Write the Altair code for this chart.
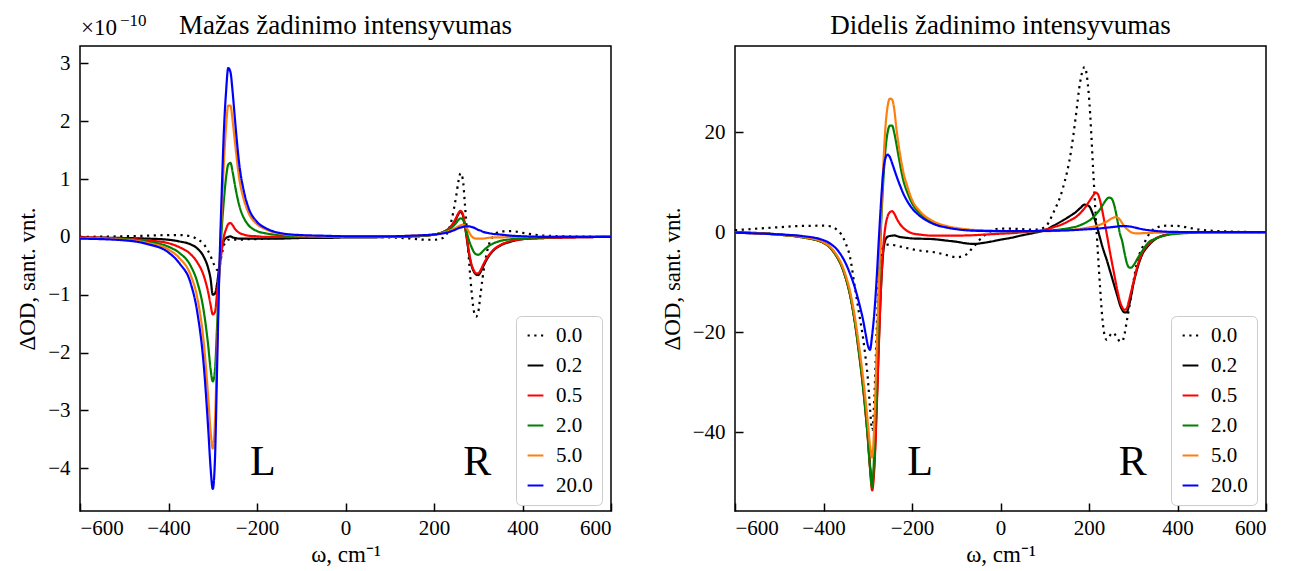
import altair as alt
import pandas as pd

FONT = "Liberation Serif"
SERIES = ["0.0", "0.2", "0.5", "2.0", "5.0", "20.0"]
COLORS = ["#000000", "#000000", "#ff0000", "#008000", "#ff7f0e", "#0000ff"]
DASHES = [[2.2, 4.5], [1, 0], [1, 0], [1, 0], [1, 0], [1, 0]]

# ---------------- left panel (x 1e-10) ----------------
x_left = [-600, -500, -450, -400, -375,
          -350, -335, -320, -310, -305,
          -300, -295, -290, -285, -280,
          -275, -270, -265, -260, -255,
          -250, -240, -230, -220, -200,
          -180, -150, -100, -50, 0,
          50, 100, 150, 180, 200,
          220, 240, 250, 255, 260,
          265, 270, 275, 280, 285,
          290, 295, 300, 305, 310,
          320, 335, 350, 375, 400,
          450, 500, 600]

left_00 = [0.0, 0.01, 0.02, 0.03, 0.03,
           0.01, -0.04, -0.13, -0.25, -0.33,
           -0.43, -0.51, -0.57, -0.52, -0.32,
           -0.15, -0.08, -0.05, -0.05, -0.05,
           -0.05, -0.05, -0.05, -0.04, -0.04,
           -0.03, -0.02, -0.01, 0.0, 0.0,
           0.0, -0.01, -0.03, -0.05, -0.05,
           -0.02, 0.3, 0.7, 0.95, 1.1,
           1.0, 0.55, 0.05, -0.5, -0.95,
           -1.28, -1.38, -1.3, -1.0, -0.7,
           -0.25, 0.02, 0.09, 0.1, 0.07,
           0.02, 0.01, 0.0]

left_02 = [-0.01, -0.02, -0.03, -0.05, -0.08,
           -0.13, -0.2, -0.35, -0.55, -0.72,
           -1.0, -0.98, -0.8, -0.5, -0.22,
           -0.07, -0.02, 0.0, 0.01, -0.01,
           -0.02, -0.03, -0.03, -0.03, -0.03,
           -0.03, -0.03, -0.02, -0.02, -0.01,
           -0.01, 0.0, 0.01, 0.02, 0.04,
           0.08, 0.19, 0.31, 0.39, 0.43,
           0.38, 0.18, -0.08, -0.33, -0.5,
           -0.6, -0.65, -0.66, -0.61, -0.53,
           -0.38, -0.23, -0.15, -0.08, -0.04,
           -0.02, -0.01, 0.0]

left_05 = [-0.01, -0.03, -0.06, -0.11, -0.18,
           -0.3, -0.44, -0.68, -0.97, -1.17,
           -1.34, -1.3, -0.95, -0.6, -0.25,
           0.0, 0.13, 0.22, 0.24, 0.2,
           0.14, 0.07, 0.04, 0.02, 0.01,
           0.0, 0.0, 0.0, 0.0, 0.0,
           0.0, 0.0, 0.01, 0.02, 0.04,
           0.08, 0.2, 0.33, 0.41, 0.45,
           0.4, 0.2, -0.05, -0.3, -0.48,
           -0.58, -0.63, -0.63, -0.58, -0.5,
           -0.36, -0.22, -0.14, -0.07, -0.04,
           -0.02, -0.01, 0.0]

left_20 = [-0.02, -0.04, -0.08, -0.17, -0.28,
           -0.5, -0.78, -1.3, -1.9, -2.28,
           -2.5, -2.3, -1.5, -0.6, 0.1,
           0.62, 1.02, 1.25, 1.28, 1.12,
           0.9, 0.54, 0.33, 0.21, 0.1,
           0.06, 0.03, 0.01, 0.0, 0.0,
           0.0, 0.0, 0.01, 0.02, 0.04,
           0.08, 0.16, 0.24, 0.29, 0.32,
           0.3, 0.2, 0.05, -0.08, -0.18,
           -0.26, -0.3, -0.31, -0.29, -0.25,
           -0.18, -0.11, -0.07, -0.04, -0.02,
           -0.01, 0.0, 0.0]

left_50 = [-0.02, -0.05, -0.1, -0.22, -0.37,
           -0.66, -1.05, -1.85, -2.8, -3.35,
           -3.66, -3.2, -1.9, -0.6, 0.4,
           1.25, 1.9, 2.27, 2.27, 2.0,
           1.65, 1.0, 0.65, 0.43, 0.22,
           0.13, 0.06, 0.02, 0.01, 0.01,
           0.01, 0.01, 0.02, 0.03, 0.04,
           0.07, 0.12, 0.16, 0.18, 0.2,
           0.21, 0.19, 0.14, 0.07, 0.01,
           -0.02, -0.03, -0.03, -0.03, -0.03,
           -0.02, -0.01, -0.01, 0.0, 0.0,
           0.0, 0.0, 0.0]

left_200 = [-0.03, -0.06, -0.12, -0.27, -0.46,
            -0.8, -1.3, -2.25, -3.35, -3.98,
            -4.36, -3.85, -2.2, -0.55, 0.7,
            1.8, 2.5, 2.92, 2.85, 2.5,
            2.05, 1.25, 0.8, 0.52, 0.26,
            0.15, 0.07, 0.03, 0.02, 0.01,
            0.01, 0.01, 0.02, 0.03, 0.04,
            0.06, 0.1, 0.13, 0.15, 0.16,
            0.17, 0.18, 0.18, 0.18, 0.17,
            0.16, 0.14, 0.12, 0.11, 0.09,
            0.07, 0.05, 0.04, 0.02, 0.01,
            0.0, 0.0, 0.0]

# ---------------- right panel ----------------
x_right = [-600, -500, -450, -400, -380,
           -370, -360, -350, -340, -330,
           -320, -310, -305, -300, -295,
           -290, -285, -280, -275, -270,
           -265, -260, -255, -250, -245,
           -240, -235, -230, -220, -210,
           -200, -180, -150, -120, -100,
           -80, -60, -40, -20, 0,
           25, 50, 75, 100, 120,
           140, 160, 170, 180, 190,
           200, 210, 215, 220, 225,
           230, 235, 240, 245, 250,
           255, 260, 265, 270, 275,
           280, 285, 290, 295, 300,
           310, 320, 335, 350, 375,
           400, 425, 450, 500, 600]

right_00 = [0.4, 1.0, 1.25, 1.3, 1.1,
            0.5, -0.4, -2.2, -5.0, -10.5,
            -16.0, -21.5, -25.0, -29.0, -35.0,
            -39.5, -33.0, -20.0, -9.0, -4.5,
            -3.0, -2.6, -2.5, -2.5, -2.5,
            -2.6, -2.7, -2.8, -3.0, -3.2,
            -3.4, -3.7, -4.0, -4.6, -5.0,
            -4.6, -2.8, -0.9, 0.3, 0.7,
            0.7, 0.6, 0.5, 1.0, 4.0,
            8.5, 16.5, 23.0, 30.0, 33.0,
            27.0, 11.5, 3.5, -4.0, -11.0,
            -17.0, -20.5, -21.5, -21.0, -20.3,
            -20.1, -20.6, -21.3, -21.8, -21.8,
            -20.5, -18.0, -15.5, -12.8, -10.1,
            -5.5, -3.2, -0.5, 0.8, 1.3,
            1.25, 0.9, 0.5, 0.2, 0.0]

right_02 = [0.0, -0.45, -0.95, -2.1, -3.5,
            -4.8, -6.5, -9.0, -12.4, -17.3,
            -23.5, -31.0, -35.5, -40.5, -46.5,
            -50.2, -46.0, -35.0, -22.0, -11.0,
            -4.0, -1.5, -0.9, -0.75, -0.7,
            -0.65, -0.75, -0.9, -1.05, -1.15,
            -1.25, -1.3, -1.4, -1.7, -1.9,
            -2.2, -2.35, -2.15, -1.85, -1.5,
            -1.1, -0.6, -0.15, 0.4, 1.3,
            2.3, 3.4, 4.0, 4.8, 5.5,
            5.2, 3.3, 2.0, 0.5, -1.2,
            -2.8, -4.2, -5.5, -7.0, -8.5,
            -10.0, -11.5, -13.0, -14.5, -15.5,
            -16.0, -16.0, -14.8, -12.8, -10.5,
            -7.0, -4.5, -2.6, -1.4, -0.5,
            -0.2, -0.1, 0.0, 0.0, 0.0]

right_05 = [-0.1, -0.5, -1.0, -2.1, -3.6,
            -4.9, -6.6, -9.1, -12.5, -17.5,
            -24.0, -31.5, -36.0, -41.0, -47.0,
            -51.6, -47.0, -36.0, -23.0, -11.0,
            -3.0, 1.2, 3.2, 4.0, 4.2,
            3.7, 2.8, 2.0, 0.9, 0.2,
            -0.2, -0.5, -0.7, -0.7, -0.7,
            -0.65, -0.6, -0.5, -0.4, -0.3,
            -0.2, 0.0, 0.2, 0.5, 1.0,
            1.6, 2.5, 3.0, 3.8, 4.8,
            6.1, 7.4, 7.9, 7.6, 6.3,
            4.3, 2.0, -0.3, -2.8, -5.2,
            -7.5, -9.8, -12.0, -13.8, -15.0,
            -15.5, -15.3, -13.8, -12.0, -10.2,
            -6.6, -4.2, -2.4, -1.3, -0.5,
            -0.2, -0.1, 0.0, 0.0, 0.0]

right_20 = [-0.1, -0.5, -1.0, -2.1, -3.6,
            -4.9, -6.6, -9.1, -12.5, -17.5,
            -24.0, -31.5, -36.0, -41.0, -47.0,
            -51.0, -43.0, -28.0, -12.0, 1.0,
            10.0, 16.5, 20.0, 21.3, 21.3,
            19.8, 17.5, 15.0, 10.5, 7.8,
            5.8, 3.6, 1.8, 1.0, 0.7,
            0.5, 0.4, 0.3, 0.25, 0.2,
            0.2, 0.2, 0.2, 0.3, 0.4,
            0.6, 0.9, 1.1, 1.4, 1.8,
            2.3, 3.0, 3.5, 4.0, 4.6,
            5.3, 6.0, 6.6, 6.9, 6.8,
            6.0, 4.3, 2.0, -0.3, -1.8,
            -4.0, -6.0, -7.0, -7.1, -6.7,
            -5.2, -3.8, -2.0, -1.3, -0.6,
            -0.3, -0.15, -0.05, 0.0, 0.0]

right_50 = [-0.1, -0.5, -0.9, -2.0, -3.4,
            -4.6, -6.2, -8.6, -11.8, -16.5,
            -22.5, -29.5, -33.5, -38.0, -42.5,
            -45.0, -38.0, -24.0, -11.0, 2.5,
            13.0, 21.0, 25.2, 26.7, 26.5,
            24.5, 20.5, 17.3, 12.2, 9.0,
            6.5, 4.0, 2.1, 1.2, 0.85,
            0.6, 0.45, 0.35, 0.3, 0.25,
            0.2, 0.2, 0.2, 0.2, 0.25,
            0.35, 0.45, 0.55, 0.65, 0.8,
            0.95, 1.1, 1.2, 1.35, 1.5,
            1.7, 1.9, 2.1, 2.4, 2.7,
            2.9, 3.0, 2.9, 2.5, 1.8,
            1.2, 0.7, 0.3, 0.0, -0.15,
            -0.25, -0.2, -0.15, -0.1, -0.05,
            0.0, 0.0, 0.0, 0.0, 0.0]

right_200 = [-0.1, -0.45, -0.75, -1.6, -2.6,
             -3.4, -4.6, -6.2, -8.3, -10.8,
             -14.0, -17.8, -20.2, -22.5, -23.5,
             -20.5, -16.0, -9.5, -1.5, 6.0,
             12.0, 14.8, 15.5, 15.0, 13.8,
             12.5, 11.2, 10.0, 7.8, 6.1,
             4.8, 3.1, 1.6, 0.9, 0.6,
             0.4, 0.3, 0.25, 0.2, 0.2,
             0.2, 0.2, 0.2, 0.25, 0.3,
             0.35, 0.4, 0.45, 0.5, 0.55,
             0.6, 0.65, 0.7, 0.72, 0.75,
             0.8, 0.85, 0.9, 0.95, 1.0,
             1.05, 1.1, 1.15, 1.2, 1.2,
             1.2, 1.2, 1.15, 1.1, 1.0,
             0.8, 0.6, 0.4, 0.25, 0.1,
             0.05, 0.0, 0.0, 0.0, 0.0]

x_ticks = [-600, -400, -200, 0, 200, 400, 600]
left_yticks = [-4, -3, -2, -1, 0, 1, 2, 3]
right_yticks = [-40, -20, 0, 20]
left_ydomain = [-4.74, 3.30]
right_ydomain = [-55.7, 37.2]

ann_labels = ["L", "R"]
left_ann_x = [-187, 298]
left_ann_y = [-3.9, -3.9]
right_ann_x = [-182, 299]
right_ann_y = [-46, -46]

exp_base = ["×10"]
exp_sup = ["−10"]


def long_df(xs, cols):
    rows = []
    for i, (name, ys) in enumerate(zip(SERIES, cols)):
        assert len(xs) == len(ys), (name, len(xs), len(ys))
        for xv, yv in zip(xs, ys):
            rows.append({"w": xv, "v": yv, "s": name, "o": i})
    return pd.DataFrame(rows)


df_left = long_df(x_left, [left_00, left_02, left_05, left_20, left_50, left_200])
df_right = long_df(x_right, [right_00, right_02, right_05, right_20, right_50, right_200])


def panel(df, title, ydomain, yticks, ann_x, ann_y, title_offset, extra=()):
    legend = alt.Legend(
        title=None, orient="none", legendX=436, legendY=270,
        symbolType="stroke", symbolStrokeWidth=2.2, symbolSize=250,
        labelFontSize=21, labelFont=FONT, labelColor="black",
        rowPadding=8, padding=9, strokeColor="#cccccc", fillColor="white",
        cornerRadius=5, labelOffset=10,
    )
    x_axis = alt.Axis(values=x_ticks, format="d", title="ω, cm⁻¹", grid=False,
                      domain=False, tickSize={"expr": "-8"}, tickWidth=1.5,
                      labelPadding=14, titlePadding=5)
    y_axis = alt.Axis(values=yticks, format="d", title="ΔOD, sant. vnt.", grid=False,
                      domain=False, tickSize={"expr": "-8"}, tickWidth=1.5,
                      labelPadding=18, titlePadding=8)
    lines = alt.Chart(df).mark_line(strokeWidth=2.2, interpolate="monotone").encode(
        x=alt.X("w:Q", scale=alt.Scale(domain=[-600, 600], nice=False, zero=False), axis=x_axis),
        y=alt.Y("v:Q", scale=alt.Scale(domain=ydomain, nice=False, zero=False), axis=y_axis),
        color=alt.Color("s:N", scale=alt.Scale(domain=SERIES, range=COLORS), legend=legend, sort=SERIES),
        strokeDash=alt.StrokeDash("s:N", scale=alt.Scale(domain=SERIES, range=DASHES), legend=legend, sort=SERIES),
    )
    ann_df = pd.DataFrame({"w": ann_x, "v": ann_y, "t": ann_labels})
    ann = alt.Chart(ann_df).mark_text(font=FONT, fontSize=42, color="black",
                                      align="center", baseline="middle").encode(
        x="w:Q", y="v:Q", text="t:N")
    layers = [lines, ann] + list(extra)
    return alt.layer(*layers).properties(
        width=531, height=465,
        title=alt.TitleParams(text=title, font=FONT, fontSize=27, fontWeight="normal",
                              color="black", anchor="middle", offset=title_offset),
    )


exp_text = alt.Chart(pd.DataFrame({"t": exp_base})).mark_text(
    font=FONT, fontSize=23, color="black", align="left", baseline="alphabetic"
).encode(x=alt.value(1), y=alt.value(-11), text="t:N")
sup_text = alt.Chart(pd.DataFrame({"t": exp_sup})).mark_text(
    font=FONT, fontSize=17, color="black", align="left", baseline="alphabetic"
).encode(x=alt.value(40), y=alt.value(-20), text="t:N")

left = panel(df_left, "Mažas žadinimo intensyvumas", left_ydomain, left_yticks,
             left_ann_x, left_ann_y, -28, extra=(exp_text, sup_text))
right = panel(df_right, "Didelis žadinimo intensyvumas", right_ydomain, right_yticks,
              right_ann_x, right_ann_y, 6)

chart = alt.hconcat(left, right, spacing=43).resolve_scale(
    y="independent", color="independent", strokeDash="independent"
).resolve_legend(
    color="independent", strokeDash="independent"
).properties(
    padding={"left": 7, "top": 3, "right": 5, "bottom": 0}, background="white"
).configure_view(
    stroke="black", strokeWidth=1.5
).configure_axis(
    labelFont=FONT, titleFont=FONT, labelFontSize=21, titleFontSize=23,
    titleFontWeight="normal", labelColor="black", titleColor="black", tickColor="black"
)

chart.save("out.html", embed_options={"renderer": "svg", "actions": False})
